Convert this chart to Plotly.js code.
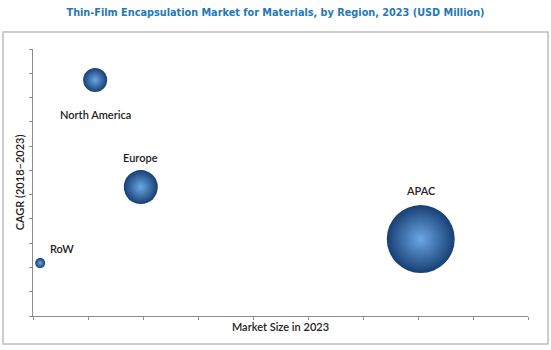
<!DOCTYPE html>
<html>
<head>
<meta charset="utf-8">
<script src="https://cdn.plot.ly/plotly-3.0.1.min.js"></script>
<style>html,body{margin:0;padding:0;background:#fff;}#chart{width:551px;height:350px;}</style>
</head>
<body>
<div id="chart"></div>
<script>
// Data (arbitrary axis units, no tick labels shown)
const regions = ["North America", "Europe", "APAC", "RoW"];
const marketSize = [1.13, 1.96, 7.05, 0.13];   // x: Market Size in 2023
const cagr = [9.72, 5.31, 3.17, 2.18];          // y: CAGR (2018–2023)
const bubbleSize = [24, 34, 68, 10];            // bubble size

// Label offsets (pixels) relative to each bubble
const labelShiftX = [0, 0, 0, 22];
const labelShiftY = [-34, 30, 49, 15];

const trace = {
  type: "scatter",
  mode: "markers",
  x: marketSize,
  y: cagr,
  text: regions,
  hoverinfo: "text",
  marker: {
    size: bubbleSize,
    sizemode: "diameter",
    opacity: 1,
    color: "#173F73",
    gradient: { type: "radial", color: "#6AA8E6" },
    line: { width: 0 }
  },
  cliponaxis: false
};

const annotations = regions.map((r, i) => ({
  x: marketSize[i], y: cagr[i], xref: "x", yref: "y",
  text: r, showarrow: false,
  xshift: labelShiftX[i], yshift: labelShiftY[i],
  font: { family: "Lato, 'Open Sans', sans-serif", size: 11, color: "#222", weight: 600 }
}));

const layout = {
  width: 551, height: 350,
  margin: { l: 33, r: 23, t: 49, b: 34, pad: 0 },
  paper_bgcolor: "#fff", plot_bgcolor: "#fff",
  showlegend: false,
  title: {
    text: "<b>Thin-Film Encapsulation Market for Materials, by Region, 2023 (USD Million)</b>",
    font: { family: "'DejaVu Sans Condensed', 'Liberation Sans Narrow', sans-serif", size: 10.8, color: "#1F78B8" },
    x: 0.5, xref: "container", xanchor: "center",
    y: 1 - 12/350, yref: "container", yanchor: "middle"
  },
  xaxis: {
    range: [0, 9], dtick: 1, tick0: 0,
    showgrid: false, zeroline: false,
    showline: true, linecolor: "#8c8c8c", linewidth: 1,
    ticks: "outside", ticklen: 3, tickcolor: "#8c8c8c",
    showticklabels: false, fixedrange: true,
    title: { text: "Market Size in 2023", standoff: 4,
      font: { family: "Lato, 'Open Sans', sans-serif", size: 11, color: "#222", weight: 600 } },
    automargin: false
  },
  yaxis: {
    range: [0, 11], dtick: 1, tick0: 0,
    showgrid: false, zeroline: false,
    showline: true, linecolor: "#8c8c8c", linewidth: 1,
    ticks: "outside", ticklen: 3, tickcolor: "#8c8c8c",
    showticklabels: false, fixedrange: true,
    title: { text: "CAGR (2018–2023)", standoff: 2,
      font: { family: "Lato, 'Open Sans', sans-serif", size: 11, color: "#222", weight: 600 } },
    automargin: false
  },
  annotations: annotations,
  shapes: [{
    type: "rect", xref: "paper", yref: "paper",
    x0: (3 - 33) / 495, x1: (548 - 33) / 495,
    y0: (316 - 344) / 267, y1: (316 - 32) / 267,
    line: { color: "#bdbdbd", width: 1.5 }, fillcolor: "rgba(0,0,0,0)", layer: "below"
  }]
};

Plotly.newPlot("chart", [trace], layout, { displayModeBar: false, staticPlot: true });
</script>
</body>
</html>
